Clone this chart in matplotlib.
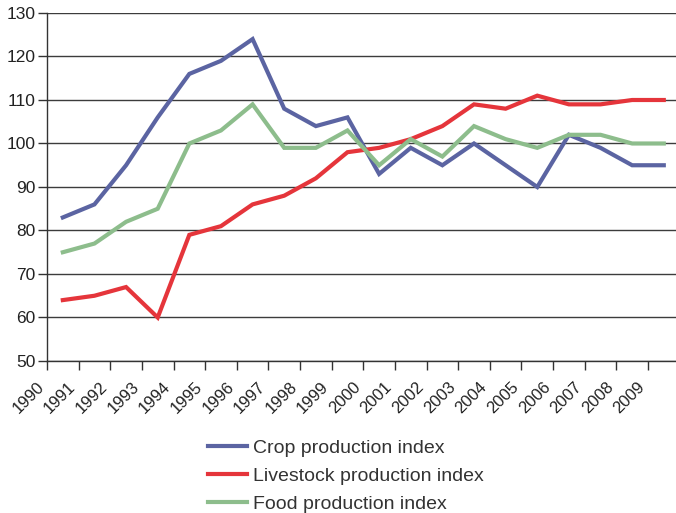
import numpy as np
import matplotlib
matplotlib.use("Agg")
import matplotlib.pyplot as plt
from matplotlib.transforms import ScaledTranslation

plt.rcParams['font.family'] = ['Liberation Sans', 'DejaVu Sans']

# ------------ data ------------
years = [str(y) for y in range(1990, 2010)]
crop = [83, 86, 95, 106, 116, 119, 124, 108, 104, 106,
        93, 99, 95, 100, 95, 90, 102, 99, 95, 95]
livestock = [64, 65, 67, 60, 79, 81, 86, 88, 92, 98,
             99, 101, 104, 109, 108, 111, 109, 109, 110, 110]
food = [75, 77, 82, 85, 100, 103, 109, 99, 99, 103,
        95, 101, 97, 104, 101, 99, 102, 102, 100, 100]
y_ticks = list(range(50, 131, 10))

# ------------ figure ------------
W, H = 676, 513
fig = plt.figure(figsize=(W / 100, H / 100), dpi=100)
ax = fig.add_axes([47 / W, (H - 361) / H, (679.6 - 47) / W, (361 - 13) / H])

x = np.arange(len(years)) + 0.5
lw = 3.0
ax.plot(x, crop, color='#5b64a2', lw=lw, label='Crop production index', solid_joinstyle='miter')
ax.plot(x, livestock, color='#e5353b', lw=lw, label='Livestock production index', solid_joinstyle='miter')
ax.plot(x, food, color='#8dbd8c', lw=lw, label='Food production index', solid_joinstyle='miter')

ax.set_xlim(0, len(years))
ax.set_ylim(50, 130)
ax.set_yticks(y_ticks)
ax.yaxis.grid(True, color='#3c3c3c', lw=1.0)
ax.set_axisbelow(True)

ax.set_xticks(np.arange(len(years)))
ax.set_xticklabels(years, rotation=45, ha='right', fontsize=12, color='#222222')
offset = ScaledTranslation(8 / 100, 0, fig.dpi_scale_trans)
for lab in ax.get_xticklabels():
    lab.set_transform(lab.get_transform() + offset)

ax.tick_params(axis='y', labelsize=12.5, colors='#222222', length=6.5, width=1, pad=2)
ax.tick_params(axis='y', color='#333333')
ax.tick_params(axis='x', length=6.5, width=1, color='#333333', pad=6.5)
for s in ['top', 'right']:
    ax.spines[s].set_visible(False)
for s in ['left', 'bottom']:
    ax.spines[s].set_color('#333333')
    ax.spines[s].set_linewidth(1.0)

leg = fig.legend(loc='upper left', bbox_to_anchor=(208 / W, 1 - 439 / H),
                 frameon=False, fontsize=14, handlelength=2.0,
                 handletextpad=0.3, labelspacing=0.55, borderpad=0, borderaxespad=0)
for t in leg.get_texts():
    t.set_color('#333333')

fig.savefig('out.png', dpi=100)
